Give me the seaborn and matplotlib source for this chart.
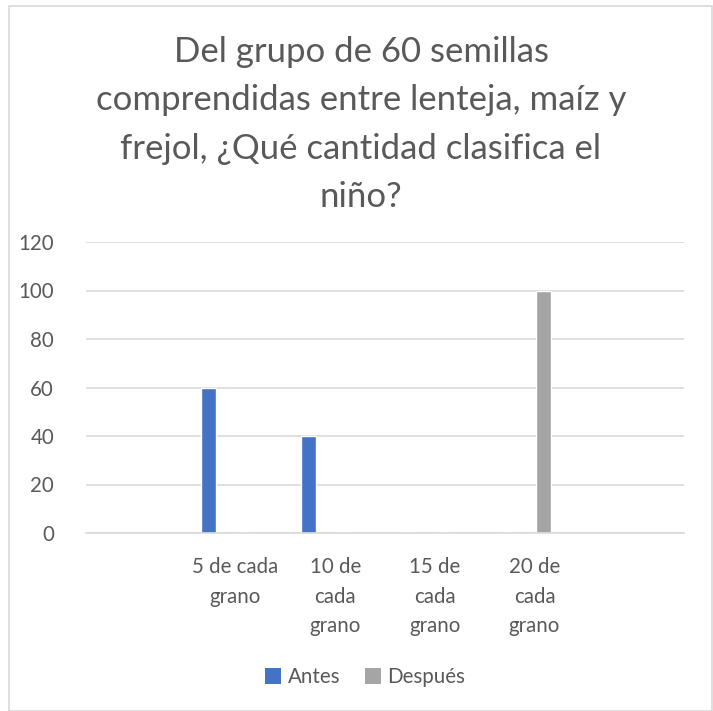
import matplotlib
matplotlib.use("Agg")
import matplotlib.pyplot as plt
import seaborn as sns
import pandas as pd
import numpy as np
from matplotlib.patches import Patch, Rectangle

# ---- data ----
categories = ["c0", "5 de cada grano", "10 de cada grano", "15 de cada grano", "20 de cada grano", "c5"]
tick_labels = ["", "5 de cada\ngrano", "10 de\ncada\ngrano", "15 de\ncada\ngrano", "20 de\ncada\ngrano", ""]
antes = [np.nan, 60, 40, 0, 0, np.nan]
despues = [np.nan, 0, 0, 0, 100, np.nan]
series_names = ["Antes", "_h1", "Después", "_h2"]
series_colors = ["#4472C4", "#FFFFFF", "#A5A5A5", "#FFFFFF"]
title = "Del grupo de 60 semillas\ncomprendidas entre lenteja, maíz y\nfrejol, ¿Qué cantidad clasifica el\nniño?"
yticks = [0, 20, 40, 60, 80, 100, 120]

rows = []
for c, a, d in zip(categories, antes, despues):
    rows.append({"cat": c, "serie": "Antes", "val": a})
    rows.append({"cat": c, "serie": "_h1", "val": np.nan})
    rows.append({"cat": c, "serie": "Después", "val": d})
    rows.append({"cat": c, "serie": "_h2", "val": np.nan})
df = pd.DataFrame(rows)

sns.set_theme(style="white")
FONT = "Lato"
plt.rcParams["font.family"] = [FONT, "DejaVu Sans"]
TXT = "#595959"
GRID = "#D9D9D9"
FS = 14.8

W, H = 713, 711
fig = plt.figure(figsize=(W / 100, H / 100), dpi=100)
ax = fig.add_axes([86 / W, 1 - 533 / H, (684 - 86) / W, (533 - 242) / H])

sns.barplot(data=df, x="cat", y="val", hue="serie", order=categories,
            hue_order=series_names, palette=series_colors, width=0.72,
            gap=0.18, ax=ax, legend=False, errorbar=None, saturation=1)

ax.set_xlim(-0.5, len(categories) - 0.5)
ax.set_ylim(0, 120)
ax.set_yticks(yticks)
ax.set_yticklabels([str(v) for v in yticks], color=TXT, fontsize=FS)
ax.set_xticks(range(len(categories)))
ax.set_xticklabels(tick_labels, color=TXT, fontsize=FS, linespacing=1.62, va="top")
ax.tick_params(axis="y", length=0, pad=23)
ax.tick_params(axis="x", length=0, pad=17)
ax.set_xlabel("")
ax.set_ylabel("")
for s in ["top", "right", "left"]:
    ax.spines[s].set_visible(False)
ax.spines["bottom"].set_color(GRID)
ax.spines["bottom"].set_linewidth(1.2)
ax.yaxis.grid(True, color=GRID, linewidth=1.2)
ax.set_axisbelow(True)

fig.text(361 / W, 1 - 36 / H, title, ha="center", va="top", fontsize=25,
         color=TXT, linespacing=1.63)

handles = [Patch(facecolor="#4472C4", edgecolor="none", label="Antes"),
           Patch(facecolor="#A5A5A5", edgecolor="none", label="Después")]
fig.legend(handles=handles, loc="center", bbox_to_anchor=(365 / W, 1 - 677 / H),
           ncol=2, frameon=False, fontsize=FS, labelcolor=TXT,
           handlelength=0.8, handleheight=0.8, handletextpad=0.3, columnspacing=1.2)

fig.patches.append(Rectangle((9 / W, 0), (712 - 9) / W, 1 - 6 / H, transform=fig.transFigure,
                             fill=False, edgecolor=GRID, linewidth=1.2))

fig.savefig("out.png", dpi=100, facecolor="white")
